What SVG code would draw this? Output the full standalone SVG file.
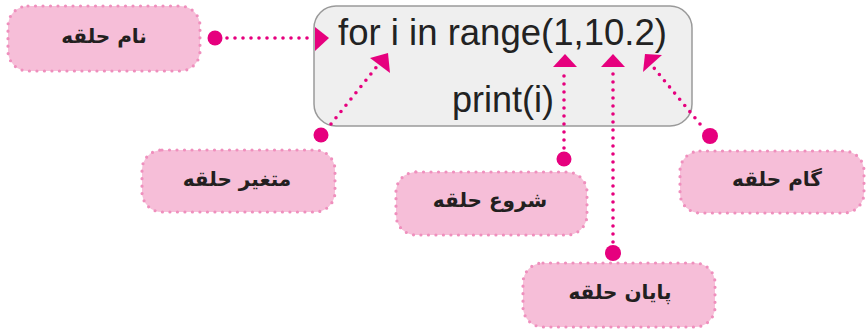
<svg xmlns="http://www.w3.org/2000/svg" width="866" height="330" viewBox="0 0 866 330">
<style>
.lbl{fill:#f6bed8;stroke:#ef8fbd;stroke-width:3.2;stroke-linecap:round;stroke-dasharray:0 7.5}
.lt{font-family:"DejaVu Sans",sans-serif;font-size:20px;font-weight:bold;fill:#231f20;text-anchor:middle;dominant-baseline:central}
.code{font-family:"Liberation Sans",Arial,sans-serif;font-size:36px;fill:#222222}
.con{stroke:#e6007e;stroke-width:3.6;stroke-linecap:round;stroke-dasharray:0 8;fill:none}
.dot{fill:#e6007e}
.ah{fill:#e6007e}
</style>
<rect width="866" height="330" fill="#ffffff"/>
<g id="code">
<rect x="314" y="6" width="378" height="120" rx="22" fill="#efefef" stroke="#9a9a9a" stroke-width="1.5"/>
<text class="code" x="338" y="45" textLength="329" lengthAdjust="spacingAndGlyphs">for i in range(1,10.2)</text>
<text class="code" x="452" y="112">print(i)</text>
</g>
<g id="name">
<rect class="lbl" x="8" y="6" width="192" height="65" rx="20"/>
<text class="lt" x="104" y="36" direction="rtl">نام حلقه</text>
</g>
<g id="var">
<rect class="lbl" x="142" y="150" width="193" height="62" rx="20"/>
<text class="lt" x="237" y="179" direction="rtl">متغیر حلقه</text>
</g>
<g id="start">
<rect class="lbl" x="396" y="172" width="191" height="63" rx="20"/>
<text class="lt" x="490" y="200" direction="rtl">شروع حلقه</text>
</g>
<g id="end">
<rect class="lbl" x="523" y="263" width="192" height="64" rx="20"/>
<text class="lt" x="620" y="292" direction="rtl">پایان حلقه</text>
</g>
<g id="step">
<rect class="lbl" x="680" y="151" width="184" height="62" rx="20"/>
<text class="lt" x="777" y="179" direction="rtl">گام حلقه</text>
</g>
<g id="connectors">
<circle class="dot" cx="215" cy="38" r="7.5"/>
<path class="con" d="M227 38 H309"/>
<path class="ah" d="M315 27 L329 38 L315 51 Z"/>

<circle class="dot" cx="321" cy="135" r="7.5"/>
<path class="con" d="M331 124 L378 65"/>
<path class="ah" d="M370 58 L388 53 L390 73 Z"/>

<circle class="dot" cx="564" cy="159" r="7.5"/>
<path class="con" d="M564 148 V68"/>
<path class="ah" d="M553 67 L565 54 L577 67 Z"/>

<circle class="dot" cx="613" cy="253" r="8"/>
<path class="con" d="M613 242 V68"/>
<path class="ah" d="M601 67 L613 54 L625 67 Z"/>

<circle class="dot" cx="710" cy="136" r="8"/>
<path class="con" d="M700 124 L654 68"/>
<path class="ah" d="M643 72 L645 54 L662 55 Z"/>
</g>
</svg>
